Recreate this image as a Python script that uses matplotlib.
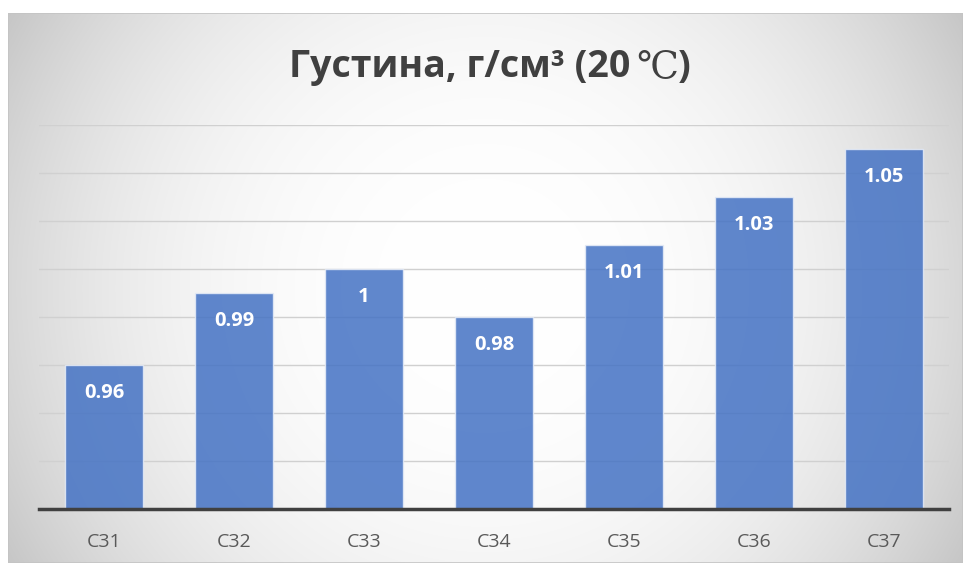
import numpy as np
import matplotlib
matplotlib.use("Agg")
import matplotlib.pyplot as plt
from matplotlib.patches import Rectangle

categories = ["C31", "C32", "C33", "C34", "C35", "C36", "C37"]
values = [0.96, 0.99, 1.0, 0.98, 1.01, 1.03, 1.05]
labels = ["0.96", "0.99", "1", "0.98", "1.01", "1.03", "1.05"]
title_parts = ["Густина, г/см³ (20", "℃", ")"]

W, H = 965, 565
fig = plt.figure(figsize=(W / 100, H / 100), dpi=100, facecolor="white")

# Background chart area with radial gradient
x0, y0, x1, y1 = 8, 13, 963, 563  # pixel coords (top-left origin)
bg = fig.add_axes([x0 / W, 1 - y1 / H, (x1 - x0) / W, (y1 - y0) / H])
bg.set_axis_off()
xs = np.arange(x0, x1)
ys = np.arange(y0, y1)
XX, YY = np.meshgrid(xs, ys)
d = np.sqrt((XX - 485) ** 2 + (YY - 288) ** 2)
g = 255 - 10 * (d / 275) ** 2.5
g = np.clip(g, 150, 255) / 255.0
img = np.dstack([g, g, g])
bg.imshow(img, aspect="auto", extent=[0, 1, 0, 1], interpolation="bilinear")
bg.add_patch(Rectangle((0, 0), 1, 1, transform=bg.transAxes, fill=False,
                       edgecolor="#c4c4c4", linewidth=1.2))
bg.set_xlim(0, 1)
bg.set_ylim(0, 1)

# Main axes
left, right = 39, 949
top, bottom = 125, 509
ax = fig.add_axes([left / W, 1 - bottom / H, (right - left) / W, (bottom - top) / H])
ax.patch.set_alpha(0)
x = np.arange(len(categories))
ax.set_xlim(-0.5, len(categories) - 0.5)
ax.set_ylim(0.90, 1.06)
ax.set_yticks(np.arange(0.92, 1.061, 0.02))
ax.yaxis.grid(True, color="#d0d0d0", linewidth=1)
ax.set_axisbelow(True)
ax.tick_params(axis="y", length=0, labelleft=False)
ax.tick_params(axis="x", length=0, pad=17.5)
for s in ["top", "right", "left"]:
    ax.spines[s].set_visible(False)
ax.spines["bottom"].set_color("#404040")
ax.spines["bottom"].set_linewidth(2.5)
ax.spines["bottom"].set_zorder(5)

bars = ax.bar(x, [v - 0.90 for v in values], bottom=0.90, width=0.6,
              color="#4472C4", alpha=0.85, edgecolor="#e6ecf7", linewidth=1.0,
              zorder=3)
ax.set_xticks(x)
ax.set_xticklabels(categories, fontsize=14, color="#595959", family=["Open Sans", "DejaVu Sans"])

for xi, v, lab in zip(x, values, labels):
    ax.annotate(lab, (xi, v), xytext=(0, -28), textcoords="offset pixels",
                ha="center", va="center", color="white", fontsize=14.5, fontweight="bold",
                family=["Open Sans", "DejaVu Sans"], zorder=6)

# Title built from pieces so that ℃ uses a wide serif glyph
styles = [
    dict(family=["Open Sans", "DejaVu Sans"], fontweight="bold"),
    dict(family=["DejaVu Serif", "DejaVu Sans"], fontweight="normal"),
    dict(family=["Open Sans", "DejaVu Sans"], fontweight="bold"),
]
gaps = [6, 0, 0]
ty = 1 - 77 / H
fig.canvas.draw()
renderer = fig.canvas.get_renderer()
texts = []
for part, st in zip(title_parts, styles):
    t = fig.text(0, ty, part, ha="left", va="baseline", fontsize=27,
                 color="#404040", **st)
    texts.append(t)
widths = [t.get_window_extent(renderer).width for t in texts]
total = sum(widths) + sum(gaps)
cx = 490
xpos = cx - total / 2
for t, w, gp in zip(texts, widths, gaps):
    t.set_x(xpos / W)
    xpos += w + gp

fig.savefig("out.png", dpi=100, facecolor="white")
